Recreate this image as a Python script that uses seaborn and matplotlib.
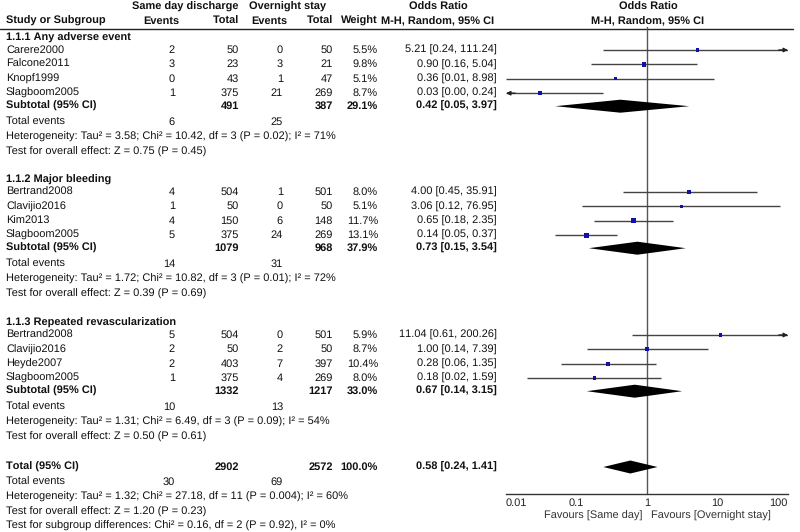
import numpy as np
import matplotlib
matplotlib.use("Agg")
import matplotlib.pyplot as plt
import seaborn as sns

sns.set_theme(style="white")
plt.rcParams['font.family'] = ['Liberation Sans', 'DejaVu Sans']
plt.rcParams['text.hinting'] = 'no_hinting'
plt.rcParams['text.hinting_factor'] = 1

# data
studies = ["Carere2000", "Falcone2011", "Knopf1999", "Slagboom2005",
           "Bertrand2008", "Clavijio2016", "Kim2013", "Slagboom2005",
           "Bertrand2008", "Clavijio2016", "Heyde2007", "Slagboom2005"]
ev_same = [2, 3, 0, 1, 4, 1, 4, 5, 5, 2, 2, 1]
tot_same = [50, 23, 43, 375, 504, 50, 150, 375, 504, 50, 403, 375]
ev_over = [0, 3, 1, 21, 1, 0, 6, 24, 0, 2, 7, 4]
tot_over = [50, 21, 47, 269, 501, 50, 148, 269, 501, 50, 397, 269]
weights = [5.5, 9.8, 5.1, 8.7, 8.0, 5.1, 11.7, 13.1, 5.9, 8.7, 10.4, 8.0]
odds = [5.21, 0.90, 0.36, 0.03, 4.00, 3.06, 0.65, 0.14, 11.04, 1.00, 0.28, 0.18]
ci_lo = [0.24, 0.16, 0.01, 0.00, 0.45, 0.12, 0.18, 0.05, 0.61, 0.14, 0.06, 0.02]
ci_hi = [111.24, 5.04, 8.98, 0.24, 35.91, 76.95, 2.35, 0.37, 200.26, 7.39, 1.35, 1.59]

groups = ["1.1.1 Any adverse event", "1.1.2 Major bleeding", "1.1.3 Repeated revascularization"]
sub_tot_same = [491, 1079, 1332]
sub_tot_over = [387, 968, 1217]
sub_weight = [29.1, 37.9, 33.0]
sub_ev_same = [6, 14, 10]
sub_ev_over = [25, 31, 13]
sub_or = [0.42, 0.73, 0.67]
sub_lo = [0.05, 0.15, 0.14]
sub_hi = [3.97, 3.54, 3.15]
sub_het = ["Heterogeneity: Tau² = 3.58; Chi² = 10.42, df = 3 (P = 0.02); I² = 71%",
           "Heterogeneity: Tau² = 1.72; Chi² = 10.82, df = 3 (P = 0.01); I² = 72%",
           "Heterogeneity: Tau² = 1.31; Chi² = 6.49, df = 3 (P = 0.09); I² = 54%"]
sub_z = ["Test for overall effect: Z = 0.75 (P = 0.45)",
         "Test for overall effect: Z = 0.39 (P = 0.69)",
         "Test for overall effect: Z = 0.50 (P = 0.61)"]

total_same, total_over = 2902, 2572
total_ev_same, total_ev_over = 30, 69
total_or, total_lo, total_hi = 0.58, 0.24, 1.41
total_lines = ["Heterogeneity: Tau² = 1.32; Chi² = 27.18, df = 11 (P = 0.004); I² = 60%",
               "Test for overall effect: Z = 1.20 (P = 0.23)",
               "Test for subgroup differences: Chi² = 0.16, df = 2 (P = 0.92), I² = 0%"]

tick_vals = [0.01, 0.1, 1, 10, 100]
tick_labels = ["0.01", "0.1", "1", "10", "100"]

# layout (pixels)
W, H = 800, 532
fs = 7.9
x_name, x_ev1, x_tot1, x_ev2, x_tot2, x_w, x_or = 6, 175, 239, 283, 333, 378, 497
group_top = [38, 180, 323]
step = 14.4

fig = plt.figure(figsize=(8, 5.32), dpi=100)
ax = fig.add_axes([0, 0, 1, 1])
ax.set_xlim(0, W)
ax.set_ylim(H, 0)
ax.axis('off')

# forest axes, same vertical pixel scale
fx0, fx1 = 506, 788
fax = fig.add_axes([fx0 / W, 0, (fx1 - fx0) / W, 1])
fax.set_xscale('log')
fax.set_xlim(0.01, 100)
fax.set_ylim(H, 0)
fax.patch.set_alpha(0)
for s in ['top', 'right', 'left']:
    fax.spines[s].set_visible(False)
fax.spines['bottom'].set_position(('data', 494))
fax.spines['bottom'].set_color('#333333')
fax.spines['bottom'].set_linewidth(1)
fax.set_yticks([])
fax.set_xticks(tick_vals)
fax.set_xticklabels([])
fax.xaxis.set_minor_locator(matplotlib.ticker.NullLocator())
fax.tick_params(axis='x', direction='inout', length=7, width=1, color='#333333')
for v, lab in zip(tick_vals, tick_labels):
    ha = 'left' if v == tick_vals[0] else ('right' if v == tick_vals[-1] else 'center')
    fax.text(v, 503.5, lab, ha=ha, va='center', fontsize=fs, color='#222222')


def txt(x, y, s, ha='left', bold=False):
    ax.text(x, y, s, ha=ha, va='center', fontsize=fs, color='#111111',
            fontweight='bold' if bold else 'normal')


# header
txt(185, 7, "Same day discharge", ha='center', bold=True)
txt(288, 7, "Overnight stay", ha='center', bold=True)
txt(438, 7, "Odds Ratio", ha='center', bold=True)
txt(648, 7, "Odds Ratio", ha='center', bold=True)
txt(x_name, 21, "Study or Subgroup", bold=True)
txt(x_ev1 + 4, 21, "Events", ha='right', bold=True)
txt(x_tot1, 21, "Total", ha='right', bold=True)
txt(x_ev2 + 4, 21, "Events", ha='right', bold=True)
txt(x_tot2, 21, "Total", ha='right', bold=True)
txt(x_w, 21, "Weight", ha='right', bold=True)
txt(438, 21, "M-H, Random, 95% CI", ha='center', bold=True)
txt(648, 21, "M-H, Random, 95% CI", ha='center', bold=True)
ax.plot([0, 793], [28.5, 28.5], color='#222222', lw=1)

# vertical line at OR = 1
fax.plot([1, 1], [27, 494], color='#555555', lw=1)

study_y = []
sub_y = []
for g in range(3):
    y0 = group_top[g]
    txt(x_name, y0, groups[g], bold=True)
    for k in range(4):
        i = g * 4 + k
        y = y0 + 12 + k * step
        study_y.append(y)
        txt(x_name, y, studies[i])
        txt(x_ev1, y, str(ev_same[i]), ha='right')
        txt(x_tot1, y, str(tot_same[i]), ha='right')
        txt(x_ev2, y, str(ev_over[i]), ha='right')
        txt(x_tot2, y, str(tot_over[i]), ha='right')
        txt(x_w, y, f"{weights[i]:.1f}%", ha='right')
        txt(x_or, y, f"{odds[i]:.2f} [{ci_lo[i]:.2f}, {ci_hi[i]:.2f}]", ha='right')
    ys = y0 + 12 + 3 * step + 13
    sub_y.append(ys)
    txt(x_name, ys, "Subtotal (95% CI)", bold=True)
    txt(x_tot1, ys, str(sub_tot_same[g]), ha='right', bold=True)
    txt(x_tot2, ys, str(sub_tot_over[g]), ha='right', bold=True)
    txt(x_w, ys, f"{sub_weight[g]:.1f}%", ha='right', bold=True)
    txt(x_or, ys, f"{sub_or[g]:.2f} [{sub_lo[g]:.2f}, {sub_hi[g]:.2f}]", ha='right', bold=True)
    txt(x_name, ys + 16, "Total events")
    txt(x_ev1, ys + 16, str(sub_ev_same[g]), ha='right')
    txt(x_ev2, ys + 16, str(sub_ev_over[g]), ha='right')
    txt(x_name, ys + 31, sub_het[g])
    txt(x_name, ys + 46, sub_z[g])

# overall total
yt = 467
txt(x_name, yt, "Total (95% CI)", bold=True)
txt(x_tot1, yt, str(total_same), ha='right', bold=True)
txt(x_tot2, yt, str(total_over), ha='right', bold=True)
txt(x_w, yt, "100.0%", ha='right', bold=True)
txt(x_or, yt, f"{total_or:.2f} [{total_lo:.2f}, {total_hi:.2f}]", ha='right', bold=True)
txt(x_name, yt + 15, "Total events")
txt(x_ev1, yt + 15, str(total_ev_same), ha='right')
txt(x_ev2, yt + 15, str(total_ev_over), ha='right')
for j, line in enumerate(total_lines):
    txt(x_name, yt + 30 + j * 14.4, line)

# confidence intervals with arrows when clipped
xmin, xmax = 0.01, 100
for i in range(len(odds)):
    y = study_y[i]
    lo = max(ci_lo[i], xmin) if ci_lo[i] > 0 else xmin
    hi = min(ci_hi[i], xmax)
    fax.plot([lo, hi], [y, y], color='#444444', lw=1, solid_capstyle='butt')
    if ci_hi[i] > xmax:
        fax.annotate("", xy=(xmax, y), xytext=(xmax / 1.35, y),
                     arrowprops=dict(arrowstyle='-|>', color='#222222', lw=1,
                                     mutation_scale=6, shrinkA=0, shrinkB=0))
    if ci_lo[i] < xmin:
        fax.annotate("", xy=(xmin, y), xytext=(xmin * 1.35, y),
                     arrowprops=dict(arrowstyle='-|>', color='#222222', lw=1,
                                     mutation_scale=6, shrinkA=0, shrinkB=0))

# study squares sized by weight
sns.scatterplot(x=odds, y=study_y, s=np.array(weights) * 1.0, marker='s',
                color='#1010b0', linewidth=0, ax=fax, legend=False, zorder=5)


def diamond(c, lo, hi, y, h=6.5):
    fax.fill([lo, c, hi, c], [y, y - h, y, y + h], color='black', lw=0, zorder=4)


for g in range(3):
    diamond(sub_or[g], sub_lo[g], sub_hi[g], sub_y[g])
diamond(total_or, total_lo, total_hi, yt)

fax.set_xlabel("")
fax.set_ylabel("")
fax.set_ylim(H, 0)
fax.text(0.99 * 1 / 1.15, 515.5, "Favours [Same day]", ha='right', va='center',
         fontsize=fs, color='#333333')
fax.text(1.15, 515.5, "Favours [Overnight stay]", ha='left', va='center',
         fontsize=fs, color='#333333')

fig.savefig("out.png", dpi=100)
